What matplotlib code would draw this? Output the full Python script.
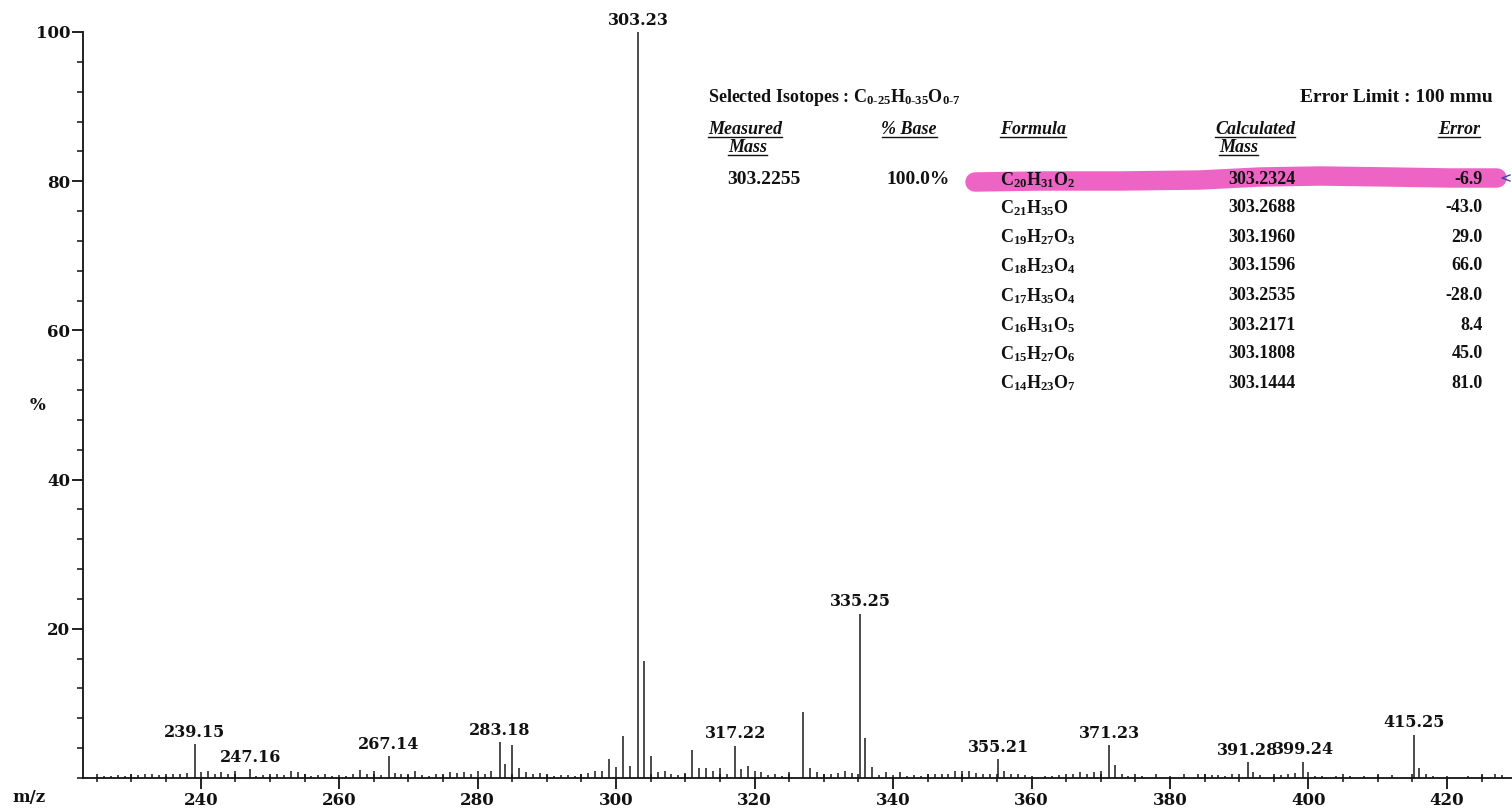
import matplotlib
matplotlib.use("Agg")
import matplotlib.pyplot as plt
from matplotlib.lines import Line2D
from matplotlib.ticker import MultipleLocator, FixedLocator

W, H = 1512, 809

plt.rcParams["mathtext.fontset"] = "custom"
plt.rcParams["mathtext.rm"] = "Liberation Serif:bold"
plt.rcParams["mathtext.it"] = "Liberation Serif:italic:bold"
plt.rcParams["mathtext.bf"] = "Liberation Serif:bold"

# ---- spectrum data -------------------------------------------------------
# annotated ions (m/z, relative abundance %)
labelled_mz = [239.15, 247.16, 267.14, 283.18, 303.23, 317.22,
               335.25, 355.21, 371.23, 391.28, 399.24, 415.25]
labelled_int = [4.5, 1.2, 2.9, 4.8, 100.0, 4.3,
                22.0, 2.5, 4.4, 2.1, 2.2, 5.8]

# remaining ions
minor_mz = [226, 227, 228, 229, 230, 231, 232, 233, 234, 235, 236, 237, 238,
            240, 241, 242, 243, 244, 245, 248, 249, 250, 251, 252, 253, 254,
            255, 256, 257, 258, 259, 260, 261, 262, 263, 264, 265, 266, 268,
            269, 270, 271, 272, 273, 274, 275, 276, 277, 278, 279, 280, 281,
            282, 284, 285, 286, 287, 288, 289, 290, 291, 292, 293, 294, 295,
            296, 297, 298, 299, 300, 301, 302, 304, 305, 306, 307, 308, 309,
            310, 311, 312, 313, 314, 315, 316, 318, 319, 320, 321, 322, 323,
            324, 325, 327, 328, 329, 330, 331, 332, 333, 334, 336, 337, 338,
            339, 340, 341, 342, 343, 344, 345, 346, 347, 348, 349, 350, 351,
            352, 353, 354, 356, 357, 358, 359, 360, 362, 363, 364, 366, 367,
            368, 369, 370, 372, 373, 374, 376, 378, 380, 382, 384, 385, 386,
            387, 388, 389, 392, 393, 395, 396, 397, 398, 400, 401, 402, 404,
            406, 408, 410, 412, 416, 417, 418, 420, 423, 425, 427, 428]
minor_int = [0.3, 0.3, 0.4, 0.3, 0.5, 0.4, 0.6, 0.5, 0.4, 0.3, 0.5, 0.6, 0.7,
             0.8, 1.0, 0.5, 0.8, 0.6, 0.9, 0.3, 0.4, 0.3, 0.6, 0.4, 0.9, 0.8,
             0.5, 0.3, 0.4, 0.5, 0.3, 0.4, 0.3, 0.6, 1.1, 0.5, 0.9, 0.4, 0.7,
             0.5, 0.4, 0.9, 0.4, 0.3, 0.6, 0.4, 0.8, 0.7, 0.8, 0.5, 0.9, 0.6,
             1.0, 1.9, 4.4, 1.3, 0.8, 0.5, 0.7, 0.4, 0.3, 0.4, 0.4, 0.3, 0.5,
             0.7, 0.9, 1.0, 2.5, 1.5, 5.6, 1.6, 15.7, 3.0, 0.8, 0.9, 0.5, 0.4,
             0.7, 3.7, 1.3, 1.3, 1.0, 1.3, 0.6, 1.2, 1.6, 1.0, 0.8, 0.4, 0.6,
             0.3, 0.8, 8.8, 1.4, 0.8, 0.5, 0.6, 0.7, 1.0, 0.7, 5.3, 1.5, 0.4,
             0.8, 0.4, 0.8, 0.3, 0.4, 0.3, 0.5, 0.6, 0.6, 0.5, 0.9, 0.9, 1.0,
             0.7, 0.5, 0.6, 0.9, 0.6, 0.5, 0.4, 0.3, 0.3, 0.3, 0.4, 0.5, 0.8,
             0.5, 0.8, 0.9, 1.7, 0.6, 0.3, 0.3, 0.5, 0.3, 0.6, 0.5, 0.6, 0.4,
             0.4, 0.3, 0.5, 0.8, 0.4, 0.3, 0.4, 0.6, 0.7, 0.8, 0.3, 0.3, 0.3,
             0.3, 0.3, 0.4, 0.4, 1.3, 0.6, 0.3, 0.3, 0.3, 0.4, 0.6, 0.4]

x_ticks = [240, 260, 280, 300, 320, 340, 360, 380, 400, 420]
y_ticks = [20, 40, 60, 80, 100]

# ---- elemental composition report ---------------------------------------
isotope_range = r"Selected Isotopes : C$_{0\text{-}25}$H$_{0\text{-}35}$O$_{0\text{-}7}$"
error_limit = "Error Limit : 100 mmu"
measured_mass = "303.2255"
percent_base = "100.0%"
formulas = [r"C$_{20}$H$_{31}$O$_{2}$", r"C$_{21}$H$_{35}$O",
            r"C$_{19}$H$_{27}$O$_{3}$", r"C$_{18}$H$_{23}$O$_{4}$",
            r"C$_{17}$H$_{35}$O$_{4}$", r"C$_{16}$H$_{31}$O$_{5}$",
            r"C$_{15}$H$_{27}$O$_{6}$", r"C$_{14}$H$_{23}$O$_{7}$"]
calc_masses = ["303.2324", "303.2688", "303.1960", "303.1596",
               "303.2535", "303.2171", "303.1808", "303.1444"]
errors = ["-6.9", "-43.0", "29.0", "66.0", "-28.0", "8.4", "45.0", "81.0"]

# ---- figure ---------------------------------------------------------------
fig = plt.figure(figsize=(W / 100, H / 100), dpi=100)
fig.patch.set_facecolor("white")


def fx(x):
    return x / W


def fy(y):
    return 1 - y / H


ax = fig.add_axes([fx(83), fy(778), 1 - fx(83), (778 - 32) / H])
ax.set_xlim(223.0, 429.4)
ax.set_ylim(0, 100)

peak_color = "#1a1a1a"
ax.vlines(minor_mz, 0, minor_int, color=peak_color, lw=1.1)
ax.vlines(labelled_mz, 0, labelled_int, color=peak_color, lw=1.1)

num_font = dict(family="DejaVu Serif", weight="bold", size=11.5, color="#111111")
for mz, inten in zip(labelled_mz, labelled_int):
    ax.annotate(f"{mz:.2f}", (mz, inten), xytext=(0, 2.5),
                textcoords="offset points", ha="center", va="bottom",
                annotation_clip=False, **num_font)

for side in ("top", "right"):
    ax.spines[side].set_visible(False)
for side in ("left", "bottom"):
    ax.spines[side].set_linewidth(1.3)
    ax.spines[side].set_color("#111111")

ax.xaxis.set_major_locator(FixedLocator(x_ticks))
ax.xaxis.set_minor_locator(MultipleLocator(5))
ax.yaxis.set_major_locator(FixedLocator(y_ticks))
ax.yaxis.set_minor_locator(MultipleLocator(4))
ax.tick_params(axis="x", which="major", direction="out", length=8, width=1.3,
               pad=2, colors="#111111")
ax.tick_params(axis="x", which="minor", direction="inout", length=6, width=1.1,
               colors="#111111")
ax.tick_params(axis="y", which="major", direction="out", length=8, width=1.3,
               pad=1, colors="#111111")
ax.tick_params(axis="y", which="minor", direction="out", length=4.5, width=1.1,
               colors="#111111")
for lab in ax.get_xticklabels() + ax.get_yticklabels():
    lab.set_fontfamily("DejaVu Serif")
    lab.set_fontweight("bold")
    lab.set_fontsize(12)

fig.text(fx(38), fy(405), "%", ha="center", va="center", **dict(num_font, size=12))
fig.text(fx(29), fy(797), "m/z", ha="center", va="center", **dict(num_font, size=12))

# ---- report table ---------------------------------------------------------
tfont = dict(family="Liberation Serif", weight="bold", size=13, color="#111111")
hfont = dict(family="Liberation Serif", weight="bold", style="italic", size=13,
             color="#111111")

# highlighter stroke behind the top-ranked formula
hx = [975, 1040, 1120, 1200, 1260, 1320, 1390, 1450, 1497]
hy = [182, 181, 181, 180, 177, 176, 177, 178, 178]
fig.add_artist(Line2D([fx(v) for v in hx], [fy(v) for v in hy],
                      transform=fig.transFigure, color="#ee5cc2", lw=14,
                      solid_capstyle="round", alpha=0.95, zorder=1))
fig.add_artist(Line2D([fx(1510), fx(1502), fx(1510)], [fy(175), fy(178), fy(181)],
                      transform=fig.transFigure, color="#3a4aa8", lw=1.0, zorder=3))

fig.text(fx(708), fy(98), isotope_range, ha="left", va="center", zorder=3,
         **dict(tfont, size=13))
fig.text(fx(1493), fy(98), error_limit, ha="right", va="center", zorder=3,
         **dict(tfont, size=14))

headers = [
    (708, 129, "Measured", "left"),
    (728, 147, "Mass", "left"),
    (937, 129, "% Base", "right"),
    (1000, 129, "Formula", "left"),
    (1215, 129, "Calculated", "left"),
    (1219, 147, "Mass", "left"),
    (1480, 129, "Error", "right"),
]
header_texts = []
for x, y, s, ha in headers:
    header_texts.append(fig.text(fx(x), fy(y), s, ha=ha, va="center", zorder=3, **hfont))

fig.text(fx(727), fy(180), measured_mass, ha="left", va="center", zorder=3,
         **dict(tfont, size=14))
fig.text(fx(950), fy(180), percent_base, ha="right", va="center", zorder=3,
         **dict(tfont, size=14))

row_y = [180, 208, 237, 266, 296, 325, 354, 383]
for y, f, cm, err in zip(row_y, formulas, calc_masses, errors):
    fig.text(fx(1000), fy(y), f, ha="left", va="center", zorder=3, **tfont)
    fig.text(fx(1262), fy(y), cm, ha="center", va="center", zorder=3, **tfont)
    fig.text(fx(1483), fy(y), err, ha="right", va="center", zorder=3, **tfont)

# underline the column headers
fig.canvas.draw()
renderer = fig.canvas.get_renderer()
for t in header_texts:
    bb = t.get_window_extent(renderer)
    ybar = (bb.y0 + 0.5) / H
    fig.add_artist(Line2D([bb.x0 / W, bb.x1 / W], [ybar, ybar],
                          transform=fig.transFigure, color="#111111", lw=1.0,
                          zorder=3))

fig.savefig("out.png", dpi=100, facecolor="white")
